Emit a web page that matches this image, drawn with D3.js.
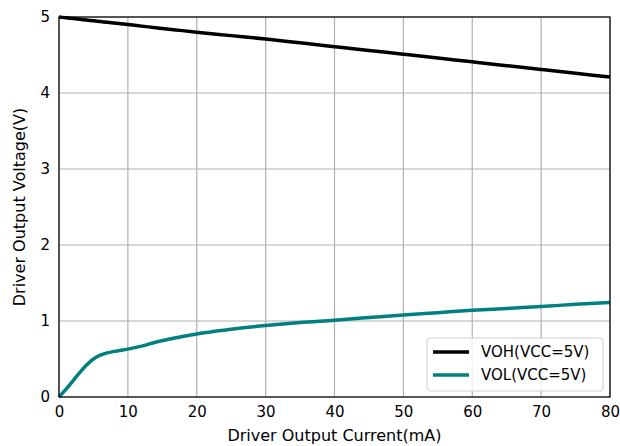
<!DOCTYPE html>
<html>
<head>
<meta charset="utf-8">
<script src="https://cdn.jsdelivr.net/npm/d3@7"></script>
<style>
  body { margin: 0; background: #fff; }
  text { font-family: "DejaVu Sans", sans-serif; fill: #000; }
</style>
</head>
<body>
<div id="chart"></div>
<script>
var width = 620,
    height = 446,
    margin = {top: 17, right: 10, bottom: 49, left: 59};

// data
var currentMA = [0, 1, 2, 3, 4, 5, 6, 7, 8, 10, 12, 14, 17, 20, 25, 30, 35, 40, 45, 50, 55, 60, 65, 70, 75, 80];
var vohVals   = [5.0, 4.99, 4.98, 4.97, 4.96, 4.95, 4.94, 4.93, 4.92, 4.90, 4.88, 4.86, 4.83, 4.80, 4.755, 4.71, 4.66, 4.61, 4.56, 4.51, 4.46, 4.41, 4.36, 4.31, 4.26, 4.21];
var volVals   = [0.0, 0.10, 0.21, 0.32, 0.42, 0.50, 0.55, 0.58, 0.60, 0.63, 0.67, 0.72, 0.78, 0.83, 0.89, 0.94, 0.98, 1.01, 1.045, 1.08, 1.11, 1.14, 1.165, 1.19, 1.22, 1.245];
var xTicks = [0, 10, 20, 30, 40, 50, 60, 70, 80];
var yTicks = [0, 1, 2, 3, 4, 5];
var seriesNames = ["VOH(VCC=5V)", "VOL(VCC=5V)"];
var seriesColors = ["#000000", "#008080"];

var w = width - margin.left - margin.right,
    h = height - margin.top - margin.bottom;

var svg = d3.select("#chart").append("svg")
  .attr("width", width)
  .attr("height", height);

var g = svg.append("g")
  .attr("transform", "translate(" + margin.left + "," + margin.top + ")");

var x = d3.scaleLinear().domain([0, 80]).range([0, w]);
var y = d3.scaleLinear().domain([0, 5]).range([h, 0]);

// grid
g.append("g").selectAll("line").data(xTicks).enter().append("line")
  .attr("x1", function(d) { return x(d); })
  .attr("x2", function(d) { return x(d); })
  .attr("y1", 0).attr("y2", h)
  .attr("stroke", "#b0b0b0").attr("stroke-width", 1.2);

g.append("g").selectAll("line").data(yTicks).enter().append("line")
  .attr("y1", function(d) { return y(d); })
  .attr("y2", function(d) { return y(d); })
  .attr("x1", 0).attr("x2", w)
  .attr("stroke", "#b0b0b0").attr("stroke-width", 1.2);

// axes (labels only, no tick marks)
var xAxis = g.append("g")
  .attr("transform", "translate(0," + h + ")")
  .call(d3.axisBottom(x).tickValues(xTicks).tickFormat(d3.format("d")).tickSize(0).tickPadding(8));
var yAxis = g.append("g")
  .call(d3.axisLeft(y).tickValues(yTicks).tickFormat(d3.format("d")).tickSize(0).tickPadding(9));
[xAxis, yAxis].forEach(function(a) {
  a.select(".domain").remove();
  a.selectAll("text").style("font-family", "DejaVu Sans, sans-serif").style("font-size", "15px").attr("fill", "#000");
});
xAxis.selectAll("text").attr("dy", "0.8em");

// lines
var line = d3.line()
  .x(function(d) { return x(d[0]); })
  .y(function(d) { return y(d[1]); })
  .curve(d3.curveMonotoneX);

var series = [vohVals, volVals];
series.forEach(function(vals, i) {
  g.append("path")
    .datum(currentMA.map(function(c, j) { return [c, vals[j]]; }))
    .attr("fill", "none")
    .attr("stroke", seriesColors[i])
    .attr("stroke-width", 3.5)
    .attr("stroke-linejoin", "round")
    .attr("d", line);
});

// frame
g.append("rect")
  .attr("width", w).attr("height", h)
  .attr("fill", "none").attr("stroke", "#000").attr("stroke-width", 1.2);

// legend
var leg = g.append("g")
  .attr("transform", "translate(" + (w - 183) + "," + (h - 59) + ")");
leg.append("rect")
  .attr("width", 176).attr("height", 53).attr("rx", 3)
  .attr("fill", "#fff").attr("fill-opacity", 0.8)
  .attr("stroke", "#d0d0d0").attr("stroke-width", 1);
seriesNames.forEach(function(name, i) {
  var ly = 14 + i * 23;
  leg.append("line")
    .attr("x1", 6).attr("x2", 42).attr("y1", ly).attr("y2", ly)
    .attr("stroke", seriesColors[i]).attr("stroke-width", 3.5);
  leg.append("text")
    .attr("x", 54).attr("y", ly).attr("dy", "0.35em")
    .style("font-size", "15px")
    .text(name);
});

// axis titles
svg.append("text")
  .attr("x", margin.left + w / 2).attr("y", 441)
  .attr("text-anchor", "middle")
  .style("font-size", "16px")
  .text("Driver Output Current(mA)");

svg.append("text")
  .attr("transform", "translate(25," + (margin.top + h / 2) + ") rotate(-90)")
  .attr("text-anchor", "middle")
  .style("font-size", "16px")
  .text("Driver Output Voltage(V)");
</script>
</body>
</html>
